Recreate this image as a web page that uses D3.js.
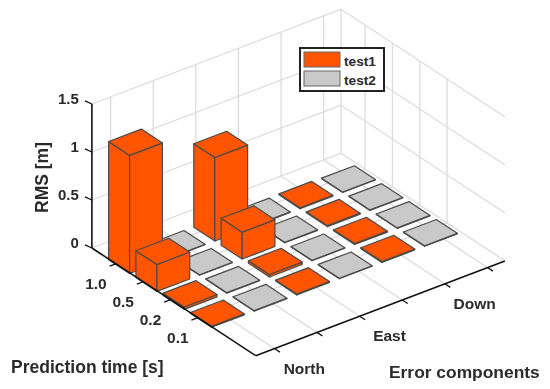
<!DOCTYPE html>
<html>
<head>
<meta charset="utf-8">
<script src="https://cdn.jsdelivr.net/npm/d3@7"></script>
<style>
  html, body { margin: 0; padding: 0; background: #fff; }
  svg { display: block; filter: blur(0.35px); }
  text { font-family: "Liberation Sans", Arial, sans-serif; font-weight: bold; fill: #2b2b2b; }
</style>
</head>
<body>
<div id="chart"></div>
<script>
// values
const predictionTimes = ["0.1", "0.2", "0.5", "1.0"];
const errorComponents = ["North", "East", "Down"];
const seriesNames = ["test1", "test2"];
const rmsTicks = [0, 0.5, 1, 1.5];
const rmsLabels = ["0", "0.5", "1", "1.5"];

// rows follow predictionTimes, columns follow errorComponents
const test1 = [
    [0.01, 0.01, 0.01],
    [0.025, 0.025, 0.01],
    [0.28, 0.28, 0.01],
    [1.23, 0.87, 0.01]
];
const test2 = [
    [0.005, 0.005, 0.005],
    [0.005, 0.005, 0.005],
    [0.005, 0.005, 0.005],
    [0.005, 0.005, 0.005]
];

const colors = { test1: "#ff5500", test2: "#c9c9c9" };

const width = 550, height = 389;
const svg = d3.select("#chart").append("svg")
    .attr("width", width)
    .attr("height", height);

// Axis-to-screen scales, the oblique view is just two pixel vectors per floor axis
const front = [255.7, 355.7];
const uScale = d3.scaleLinear().domain([0, 5]).range([0.37, 5.37]);   // bar slots along Error components
const vScale = d3.scaleLinear().domain([0, 3]).range([1.98, 4.98]);   // rows along Prediction time
const zScale = d3.scaleLinear().domain([0, 1.5]).range([0, 144]);
const uVec = [42.6, -16.2], vVec = [-27.3, -17.95];
const uMax = 5.85, vMax = 6.0;
const uTicks = d3.range(6).map(i => 0.44 + i);
const vTicks = d3.range(4).map(i => 2.12 + i);

function project(u, v, z) {
    return [
        front[0] + u * uVec[0] + v * vVec[0],
        front[1] + u * uVec[1] + v * vVec[1] - zScale(z)
    ];
}
const line = d3.line();
const gridColor = "#dcdcdc";

function segment(a, b, stroke, w) {
    svg.append("path").attr("d", line([a, b]))
        .attr("fill", "none").attr("stroke", stroke).attr("stroke-width", w);
}

// Walls and floor grid
uTicks.forEach(u => {
    segment(project(u, 0, 0), project(u, vMax, 0), gridColor, 1.3);
    segment(project(u, vMax, 0), project(u, vMax, 1.5), gridColor, 1.3);
});
vTicks.forEach(v => {
    segment(project(0, v, 0), project(uMax, v, 0), gridColor, 1.3);
    segment(project(uMax, v, 0), project(uMax, v, 1.5), gridColor, 1.3);
});
rmsTicks.forEach(z => {
    segment(project(0, vMax, z), project(uMax, vMax, z), gridColor, 1.3);
    segment(project(uMax, vMax, z), project(uMax, 0, z), gridColor, 1.3);
});
segment(project(uMax, vMax, 0), project(uMax, vMax, 1.5), gridColor, 1.3);

// Bars, painted from the back row forward
const barWidth = 0.77;
const edge = "#4a4a4a";

function drawBar(u, v, z, fill) {
    const h = barWidth / 2;
    const corner = (du, dv, zz) => project(u + du, v + dv, zz);
    const g = svg.append("g")
        .attr("fill", fill)
        .attr("stroke", edge)
        .attr("stroke-width", 1.2)
        .attr("stroke-linejoin", "round");
    // left face, right face, top
    g.append("path").attr("d", line([corner(-h, h, 0), corner(-h, -h, 0), corner(-h, -h, z), corner(-h, h, z)]) + "Z");
    g.append("path").attr("d", line([corner(-h, -h, 0), corner(h, -h, 0), corner(h, -h, z), corner(-h, -h, z)]) + "Z");
    g.append("path").attr("d", line([corner(-h, -h, z), corner(h, -h, z), corner(h, h, z), corner(-h, h, z)]) + "Z");
}

d3.range(predictionTimes.length).reverse().forEach(row => {
    d3.range(errorComponents.length).reverse().forEach(col => {
        const v = vScale(row);
        drawBar(uScale(col * 2 + 1), v, test2[row][col], colors.test2);
        drawBar(uScale(col * 2), v, test1[row][col], colors.test1);
    });
});

// Axes
const axisColor = "#111";
segment(project(0, vMax, 0), project(0, 0, 0), axisColor, 1.6);
segment(project(0, 0, 0), project(uMax, 0, 0), axisColor, 1.6);
segment(project(0, vMax, 0), project(0, vMax, 1.5), axisColor, 1.6);

uTicks.forEach(u => segment(project(u, 0, 0), project(u, -0.2, 0), axisColor, 1.3));
vTicks.forEach(v => segment(project(0, v, 0), project(-0.15, v, 0), axisColor, 1.3));
rmsTicks.forEach(z => {
    const p = project(0, vMax, z);
    segment(p, [p[0] - 7, p[1] - 3.2], axisColor, 1.3);
});

// Tick labels
rmsTicks.forEach((z, i) => {
    const p = project(0, vMax, z);
    svg.append("text").attr("x", p[0] - 13).attr("y", p[1])
        .attr("text-anchor", "end").attr("font-size", 15).text(rmsLabels[i]);
});
predictionTimes.forEach((t, i) => {
    const p = project(0, vTicks[i], 0);
    svg.append("text").attr("x", p[0] - 20).attr("y", p[1] + 25)
        .attr("text-anchor", "middle").attr("font-size", 15.5).text(t);
});
errorComponents.forEach((c, i) => {
    const p = project(i * 2 + 1, 0, 0);
    svg.append("text").attr("x", p[0] + 6).attr("y", p[1] + 34)
        .attr("text-anchor", "middle").attr("font-size", 15.5).text(c);
});

// Axis titles
svg.append("text").attr("x", 11).attr("y", 373).attr("font-size", 17.5).text("Prediction time [s]");
svg.append("text").attr("x", 389).attr("y", 378).attr("font-size", 17.4).text("Error components");
svg.append("text")
    .attr("transform", "translate(48,177.5) rotate(-90)")
    .attr("text-anchor", "middle").attr("font-size", 17.5).text("RMS [m]");

// Legend
const legend = svg.append("g").attr("transform", "translate(300,48)");
legend.append("rect").attr("width", 84).attr("height", 43)
    .attr("fill", "#fff").attr("stroke", "#222").attr("stroke-width", 2);
seriesNames.forEach((name, i) => {
    legend.append("rect").attr("x", 4).attr("y", 4 + i * 19)
        .attr("width", 36).attr("height", 15)
        .attr("fill", colors[name]).attr("stroke", "#666").attr("stroke-width", 1);
    legend.append("text").attr("x", 44).attr("y", 18 + i * 19)
        .attr("font-size", 13.7).text(name);
});
</script>
</body>
</html>
